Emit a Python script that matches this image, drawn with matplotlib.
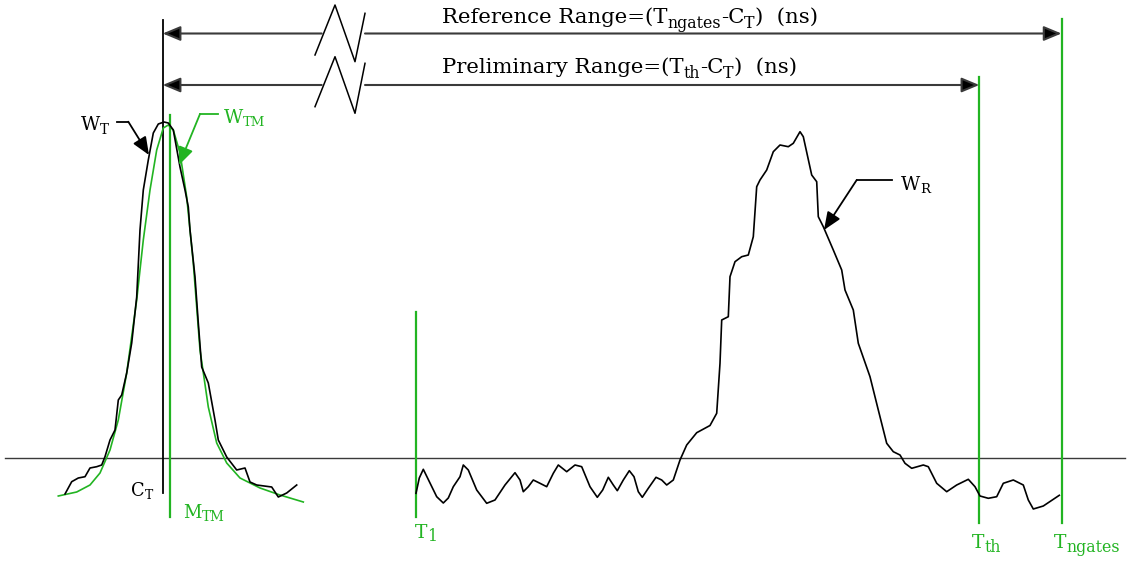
import matplotlib
matplotlib.use('Agg')
import matplotlib.pyplot as plt

plt.rcParams['font.family'] = ['DejaVu Serif', 'Liberation Serif']

GREEN = '#22b422'
BLACK = '#000000'
GRAY = '#3a3a3a'

# ---- data (x = time axis position, y = screen height) ----
# transmitted waveform W_T
wt_x = [65, 71.7, 78.3, 85, 90, 96.7, 101.7, 105, 110, 115, 118.3, 121.7, 126.7, 131.7,
        136.7, 140, 143.3, 148.3, 153.3, 158.3, 164, 168.3, 173.3, 180, 185, 188.3, 190,
        195, 198.3, 201.7, 208.3, 215, 218.3, 226.7, 236.7, 245, 250, 256.7, 271.7, 278.3,
        286.7, 296.7]
wt_y = [494, 481.7, 478, 476.7, 468, 466.7, 465, 456.7, 440, 430, 400, 395, 373, 343,
        297, 230, 190, 160, 133, 124, 122, 123, 130, 167, 190, 207, 230,
        277, 323, 367, 383, 420, 440, 457, 470, 468, 482, 485, 487, 497,
        493, 485]

# model waveform W_TM
wtm_x = [58.3, 76.7, 90, 100, 110, 118.3, 126.7, 136.7, 143.3, 150, 156.7, 163.3, 168.3,
         173.3, 180, 186.7, 193.3, 200, 208.3, 216.7, 226.7, 240, 260, 280, 303.3]
wtm_y = [496, 492, 485, 473, 450, 420, 373, 300, 240, 190, 150, 128, 125,
         130, 153, 197, 263, 350, 407, 443, 463, 478, 488, 495, 502]

# received waveform W_R
wr_x = [416, 419.3, 423.3, 430, 436.7, 443.3, 448.3, 453.3, 460, 463.3, 468.3, 476.7, 486.7,
        495, 505, 515, 520, 523.3, 528.3, 533.3, 540, 546.7, 553.3, 558.3, 566.7, 575,
        581.7, 590, 597.3, 602.7, 608.3, 613.3, 617.3, 623.3, 629.3, 634, 638.3, 642.3,
        648.3, 656, 661.7, 666.7, 673.3, 680, 686.7, 696.7, 710, 716.7, 720, 721.7, 728.3,
        730, 735, 741.7, 748.3, 753.3, 756.7, 760, 766.7, 773.3, 780, 788.3, 793.3, 800,
        803.3, 811.7, 816.7, 818.3, 823.3, 833.3, 841.7, 845, 853.3, 858.3, 870, 878.3,
        886.7, 893.3, 900, 905, 911.7, 923.3, 928.3, 936.7, 946.7, 956.7, 968.3, 975, 980,
        988.3, 996.7, 1003.3, 1013.3, 1023.3, 1028.3, 1033.3, 1043.3, 1059.3]
wr_y = [493.3, 478, 469.3, 483, 496.7, 503, 498, 486.7, 476.7, 465, 470, 490, 503.3,
        500, 485, 472.7, 480, 491.7, 486.7, 480, 483.3, 486.7, 473.3, 465, 471.7, 465,
        466.7, 486.7, 497.3, 490, 477.3, 485, 490.7, 480, 470.7, 476.7, 491.7, 497.3,
        488.3, 477.3, 480, 485, 480, 460, 445, 432.7, 425.5, 413.3, 363.3, 320, 316.7,
        276.7, 261.7, 256.7, 255, 236.7, 186.7, 180, 170, 151.7, 145, 146.7, 143.3, 131.7,
        136.7, 175, 181.7, 216.7, 226.7, 250, 270, 290, 310, 343.3, 376.7, 410,
        443.3, 451.7, 455, 463.3, 468.3, 465, 466.7, 483.3, 491.7, 485, 479.3, 486.7, 496,
        498.3, 496.7, 483.3, 480, 485, 500, 509, 506, 495.3]

# time markers
ct_x = 162.7
mtm_x = 170
t1_x = 416
tth_x = 979.3
tng_x = 1061.5
baseline_y = 458

fig = plt.figure(figsize=(11.3, 5.61), dpi=100)
ax = fig.add_axes([0, 0, 1, 1])
ax.set_xlim(0, 1130)
ax.set_ylim(561, 0)
ax.axis('off')
renderer = fig.canvas.get_renderer()

# baseline
ax.plot([5, 1125], [baseline_y, baseline_y], color=GRAY, lw=1.0)

# vertical markers
ax.plot([ct_x, ct_x], [20, 493], color=BLACK, lw=1.3)
ax.plot([mtm_x, mtm_x], [115, 517], color=GREEN, lw=1.6)
ax.plot([t1_x, t1_x], [312, 517], color=GREEN, lw=1.6)
ax.plot([tth_x, tth_x], [77, 523], color=GREEN, lw=1.6)
ax.plot([tng_x, tng_x], [19, 523], color=GREEN, lw=1.6)

# waveforms
ax.plot(wtm_x, wtm_y, color=GREEN, lw=1.2, solid_joinstyle='round')
ax.plot(wt_x, wt_y, color=BLACK, lw=1.2, solid_joinstyle='round')
ax.plot(wr_x, wr_y, color=BLACK, lw=1.2, solid_joinstyle='round')

ARW = dict(arrowstyle='-|>,head_length=0.6,head_width=0.25', lw=1.5, shrinkA=0, shrinkB=0,
           mutation_scale=18)


def range_arrow(y, x_end, zig):
    a = dict(ARW, color=GRAY, fc='black', ec=GRAY)
    ax.annotate('', xy=(ct_x, y), xytext=(321.7, y), arrowprops=a)
    ax.annotate('', xy=(x_end, y), xytext=(365, y), arrowprops=a)
    ax.plot([p[0] for p in zig], [p[1] for p in zig], color=BLACK, lw=1.1)


range_arrow(33.5, tng_x, [(315, 55), (335, 5), (355, 61.7), (365, 13.3)])
range_arrow(85, tth_x, [(315, 106.7), (335, 56.7), (355, 113.3), (365, 63.3)])


def rich(x, y, pieces, size, color=BLACK, sub=0.72, drop=4.0):
    """Draw text pieces one after another; pieces marked True are subscripts."""
    for txt, is_sub in pieces:
        fs = size * sub if is_sub else size
        yy = y + drop if is_sub else y
        t = ax.text(x, yy, txt, fontsize=fs, va='baseline', ha='left', color=color)
        bb = t.get_window_extent(renderer=renderer)
        x += bb.width


rich(441.7, 23, [('Reference Range=(T', False), ('ngates', True), ('-C', False),
                 ('T', True), (')  (ns)', False)], 15.3, sub=0.75, drop=5)
rich(441.7, 73, [('Preliminary Range=(T', False), ('th', True), ('-C', False),
                 ('T', True), (')  (ns)', False)], 15.3, sub=0.75, drop=5)


def leader(pts, color):
    xs = [p[0] for p in pts]
    ys = [p[1] for p in pts]
    ax.plot(xs[:-1], ys[:-1], color=color, lw=1.3)
    a = dict(ARW, color=color, lw=1.3)
    ax.annotate('', xy=(xs[-1], ys[-1]), xytext=(xs[-2], ys[-2]), arrowprops=a)


leader([(116.7, 121.7), (128.3, 121.7), (149, 155)], BLACK)
leader([(218.3, 114), (200, 114), (179, 165)], GREEN)
leader([(891.7, 180), (856.7, 180), (824, 230)], BLACK)

rich(81, 130, [('W', False), ('T', True)], 13.5, drop=3.5)
rich(224, 123, [('W', False), ('TM', True)], 13.5, GREEN, sub=0.7, drop=3)
rich(901, 190, [('W', False), ('R', True)], 13.5, sub=0.7, drop=3)
rich(131, 496, [('C', False), ('T', True)], 12.8, sub=0.7, drop=3)
rich(183, 518, [('M', False), ('TM', True)], 13, GREEN, sub=0.75, drop=3)
rich(415, 538, [('T', False), ('1', True)], 13.5, GREEN, sub=0.85, drop=3)
rich(972, 548, [('T', False), ('th', True)], 13.5, GREEN, sub=0.85, drop=3.5)
rich(1054, 548, [('T', False), ('ngates', True)], 13.5, GREEN, sub=0.85, drop=3.5)

fig.savefig('out.png', dpi=100, facecolor='white')
